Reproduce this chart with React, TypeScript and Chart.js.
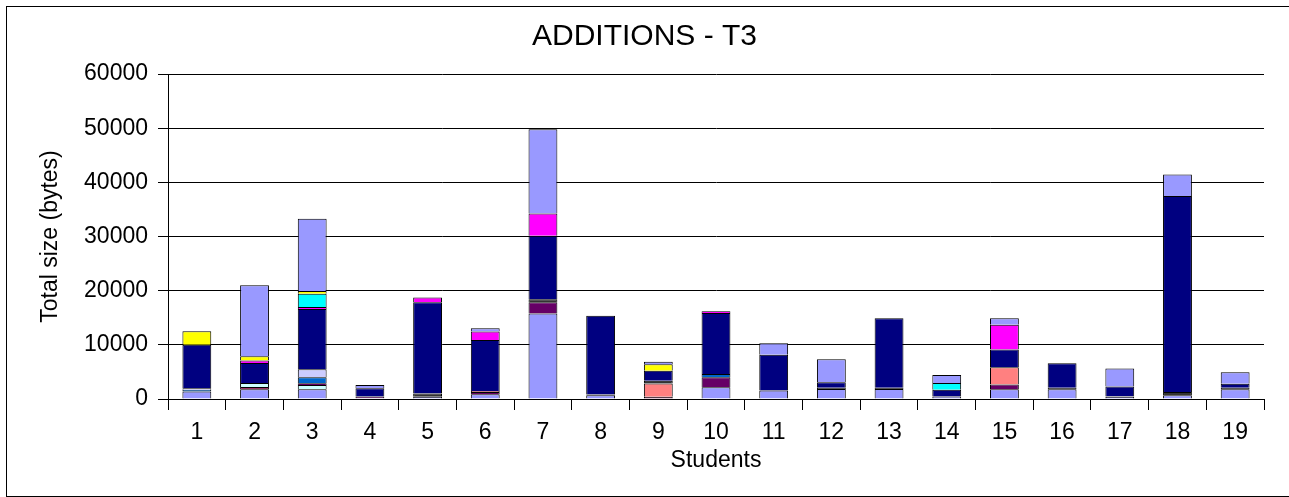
import React, { useEffect, useRef } from "react";
import { Chart, registerables } from "chart.js";

Chart.register(...registerables);

const students = ["1","2","3","4","5","6","7","8","9","10","11","12","13","14","15","16","17","18","19"];
const yTicks = [0, 10000, 20000, 30000, 40000, 50000, 60000];

// stacked from bottom to top
const periwinkleBase = [1400,1800,1800,150,400,900,15800,700,100,2150,1550,1850,1850,450,1800,1800,400,700,1800];
const plum =           [null,400,null,null,null,null,null,null,300,null,null,null,null,null,null,null,null,null,null];
const lightCyan =      [null,750,800,null,null,null,null,null,null,null,null,null,null,null,null,null,null,null,null];
const darkPurple =     [null,null,300,300,null,400,2050,null,null,1850,null,null,null,null,900,null,null,null,null];
const salmon =         [null,null,null,null,null,200,null,null,2450,null,null,null,null,null,3150,null,null,null,null];
const blue =           [300,null,1100,null,null,null,null,null,null,600,null,null,null,null,null,null,null,null,null];
const lavender =       [300,null,1500,null,null,null,null,null,null,null,null,null,null,null,null,null,null,null,null];
const darkGray =       [null,null,null,null,600,null,550,150,500,null,null,250,250,null,null,300,100,600,300];
const navy =           [8000,3700,11100,1550,16850,9400,11750,14500,1850,11300,6600,1000,12800,1250,3300,4500,1800,36200,700];
const magenta =        [null,450,400,null,900,1550,4100,null,null,300,null,null,null,null,4550,null,null,null,null];
const cyan =           [null,null,2450,null,null,null,null,null,null,null,null,null,null,1250,null,null,null,null,null];
const yellow =         [2500,800,500,null,null,null,null,null,1200,null,null,null,null,null,null,null,null,null,null];
const periwinkleTop =  [null,13100,13350,600,null,600,15550,null,500,null,2150,4250,null,1500,1200,null,3350,3950,2150];

const seriesList = [
  { label: "A", data: periwinkleBase, color: "#9999FF" },
  { label: "B", data: plum, color: "#993366" },
  { label: "C", data: lightCyan, color: "#CCFFFF" },
  { label: "D", data: darkPurple, color: "#660066" },
  { label: "E", data: salmon, color: "#FF8080" },
  { label: "F", data: blue, color: "#0066CC" },
  { label: "G", data: lavender, color: "#CCCCFF" },
  { label: "H", data: darkGray, color: "#333333" },
  { label: "I", data: navy, color: "#000080" },
  { label: "J", data: magenta, color: "#FF00FF" },
  { label: "K", data: cyan, color: "#00FFFF" },
  { label: "L", data: yellow, color: "#FFFF00" },
  { label: "M", data: periwinkleTop, color: "#9999FF" },
];

const FONT = "'Liberation Sans', Arial, sans-serif";

const framePlugin = {
  id: "frame",
  beforeDraw(chart: any) {
    const ctx = chart.ctx;
    ctx.save();
    ctx.fillStyle = "#ffffff";
    ctx.fillRect(0, 0, chart.width, chart.height);
    ctx.strokeStyle = "#000000";
    ctx.lineWidth = 1;
    ctx.strokeRect(6.5, 6.5, chart.width + 10, chart.height - 7);
    ctx.restore();
  },
  afterDraw(chart: any) {
    const ctx = chart.ctx;
    ctx.save();
    ctx.fillStyle = "#000000";
    ctx.font = `30px ${FONT}`;
    ctx.textAlign = "center";
    ctx.textBaseline = "alphabetic";
    ctx.fillText("ADDITIONS - T3", chart.width / 2, 45);
    ctx.restore();
  },
};

export default function App() {
  const ref = useRef<HTMLCanvasElement | null>(null);
  useEffect(() => {
    if (!ref.current) return;
    const chart = new Chart(ref.current, {
      type: "bar",
      data: {
        labels: students,
        datasets: seriesList.map((s) => ({
          label: s.label,
          data: s.data as any,
          backgroundColor: s.color,
          borderColor: "#000000",
          borderWidth: 1,
          barPercentage: 0.5,
          categoryPercentage: 1,
        })),
      },
      options: {
        responsive: false,
        animation: false,
        layout: { padding: { left: 0, top: 74, right: 25, bottom: 0 } },
        plugins: { legend: { display: false }, tooltip: { enabled: false }, title: { display: false } },
        scales: {
          x: {
            stacked: true,
            offset: true,
            afterFit: (scale: any) => { scale.height = 98; },
            grid: { offset: true, drawOnChartArea: false, tickColor: "#000", tickLength: 11, lineWidth: 1 },
            border: { color: "#000", width: 1 },
            ticks: { color: "#000", font: { family: FONT, size: 23 }, padding: 9, maxRotation: 0, autoSkip: false },
            title: { display: true, text: "Students", color: "#000", font: { family: FONT, size: 23 }, padding: { top: 0, bottom: 23 } },
          },
          y: {
            stacked: true,
            min: yTicks[0],
            max: yTicks[yTicks.length - 1],
            afterFit: (scale: any) => { scale.width = 168; },
            grid: {
              color: (c: any) => (c.tick && c.tick.value % 10000 === 0 ? "#000" : "rgba(0,0,0,0)"),
              tickColor: "#000",
              tickLength: 10,
              lineWidth: 1,
            },
            border: { color: "#000", width: 1 },
            ticks: {
              stepSize: 5000,
              color: "#000",
              font: { family: FONT, size: 23 },
              padding: 10,
              callback: (v: any) => (yTicks.includes(Number(v)) ? String(v) : ""),
            },
            title: { display: true, text: "Total size (bytes)", color: "#000", font: { family: FONT, size: 23 }, padding: { top: 37, bottom: 0 } },
          },
        },
      },
      plugins: [framePlugin],
    });
    return () => chart.destroy();
  }, []);
  return (
    <div style={{ position: "absolute", left: 0, top: 0, width: 1289, height: 497 }}>
      <canvas ref={ref} width={1289} height={497} style={{ width: 1289, height: 497, display: "block" }} />
    </div>
  );
}
